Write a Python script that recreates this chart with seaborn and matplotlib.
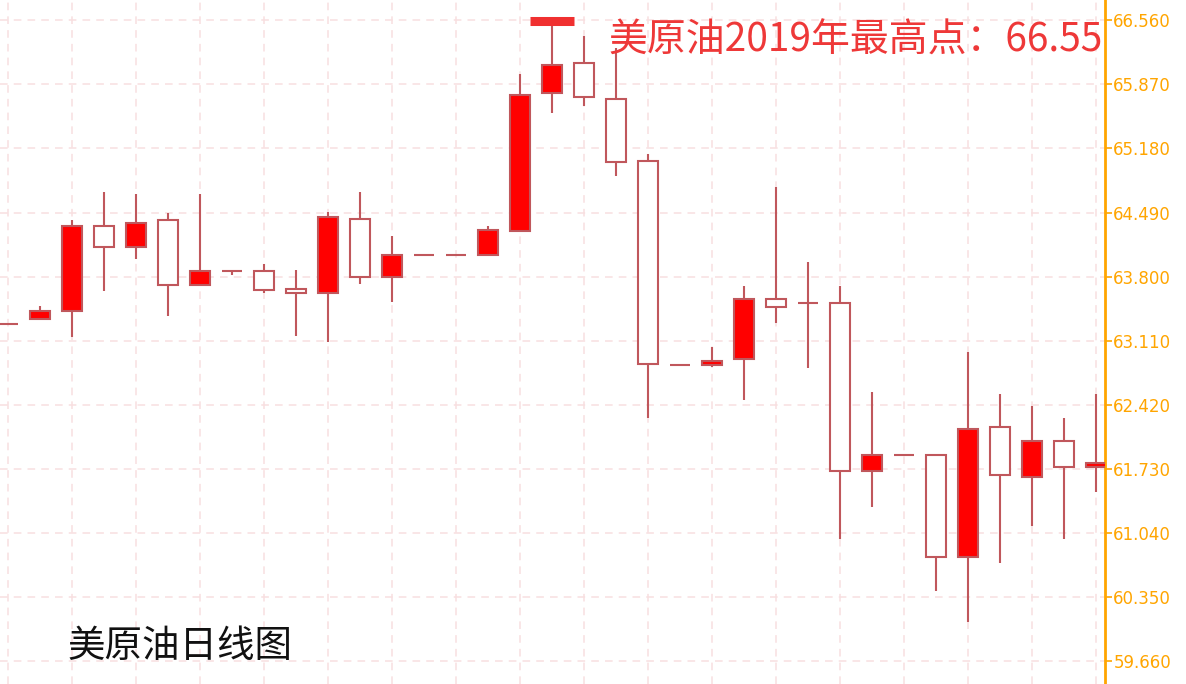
import numpy as np
import pandas as pd
import matplotlib
matplotlib.use("Agg")
import matplotlib.pyplot as plt
import seaborn as sns

# daily candles (filled = close above open, hollow = close below open)
opens = [63.29, 63.34, 63.43, 64.34, 64.12, 64.41, 63.71, 63.86, 63.86, 63.67,
         63.62, 64.42, 63.80, 64.03, 64.03, 64.03, 64.29, 65.78, 66.10, 65.71,
         65.05, 62.85, 62.85, 62.91, 63.56, 63.52, 63.52, 61.71, 61.88, 61.88,
         60.78, 62.18, 61.64, 62.03, 61.75]
highs = [63.29, 63.48, 64.41, 64.71, 64.69, 64.48, 64.69, 63.86, 63.94, 63.87,
         64.50, 64.71, 64.24, 64.03, 64.03, 64.35, 65.98, 66.55, 66.39, 66.26,
         65.12, 62.85, 63.04, 63.70, 64.76, 63.96, 63.70, 62.56, 61.88, 61.88,
         62.99, 62.54, 62.41, 62.28, 62.54]
lows = [63.29, 63.34, 63.15, 63.64, 63.99, 63.37, 63.71, 63.82, 63.62, 63.16,
        63.10, 63.72, 63.53, 64.03, 64.03, 64.03, 64.29, 65.56, 65.64, 64.88,
        62.28, 62.85, 62.83, 62.47, 63.30, 62.81, 60.97, 61.32, 61.88, 60.41,
        60.08, 60.71, 61.11, 60.97, 61.48]
closes = [63.29, 63.43, 64.34, 64.12, 64.38, 63.71, 63.86, 63.86, 63.65, 63.62,
          64.44, 63.80, 64.03, 64.03, 64.03, 64.30, 65.76, 66.08, 65.74, 65.03,
          62.86, 62.85, 62.89, 63.56, 63.47, 63.52, 61.71, 61.88, 61.88, 60.78,
          62.16, 61.66, 62.03, 61.75, 61.79]

yticks = [59.66, 60.35, 61.04, 61.73, 62.42, 63.11, 63.80, 64.49, 65.18, 65.87, 66.56]
year_high = 66.55
title_text = "美原油日线图"
note_text = "美原油2019年最高点：66.55"

df = pd.DataFrame({"open": opens, "high": highs, "low": lows, "close": closes})
df["x"] = np.arange(len(df))

sns.set_theme(style="white")
plt.rcParams["font.family"] = ["Noto Sans CJK SC", "DejaVu Sans"]

edge = "#c0575c"
orange = "#ffa500"
fig = plt.figure(figsize=(11.86, 6.84), dpi=100)
ax = fig.add_axes([0, 0, 1105 / 1186, 1])

w = 0.62
up = df[df.close > df.open]
down = df[df.close < df.open]
flat = df[df.close == df.open]

# wicks
ax.vlines(df.x, df.low, df.high, color=edge, lw=1.5, zorder=2)
# bodies
ax.bar(up.x, up.close - up.open, bottom=up.open, width=w, color="#ff0000",
       edgecolor=edge, linewidth=1.5, zorder=3)
ax.bar(down.x, down.open - down.close, bottom=down.close, width=w, color="white",
       edgecolor=edge, linewidth=1.5, zorder=3)
ax.hlines(flat.open, flat.x - w / 2, flat.x + w / 2, color=edge, lw=1.5, zorder=3)

# year high marker
hi = df.loc[df.high.idxmax()]
ax.plot([hi.x - 0.69, hi.x + 0.69], [year_high, year_high], color="#f03030",
        lw=6.5, solid_capstyle="butt", zorder=4)

ax.set_xlim(-0.25, 34.28)
ax.set_ylim(59.41, 66.78)
ax.set_xticks(np.arange(0, len(df), 2))
ax.set_yticks(yticks)
ax.set_yticklabels([f"{v:.3f}" for v in yticks])
ax.grid(True, color="#f8dfe0", linestyle=(0, (5, 4)), linewidth=1.1)
ax.set_axisbelow(True)

ax.yaxis.tick_right()
ax.tick_params(axis="y", colors=orange, direction="out", length=5, width=1.2,
               labelsize=12, pad=1, right=True, left=False)
for lab in ax.get_yticklabels():
    lab.set_fontfamily("DejaVu Sans")
ax.tick_params(axis="x", bottom=False, labelbottom=False)
for s in ["top", "left", "bottom"]:
    ax.spines[s].set_visible(False)
ax.spines["right"].set_color(orange)
ax.spines["right"].set_linewidth(2)

ax.text(0.9975, 0.94, note_text, transform=ax.transAxes, ha="right", va="center",
        color="#ee3838", fontsize=28)
fig.text(67 / 1186, 1 - 646 / 684, title_text, ha="left", va="center",
         color="#111111", fontsize=27)

fig.savefig("out.png", dpi=100)
